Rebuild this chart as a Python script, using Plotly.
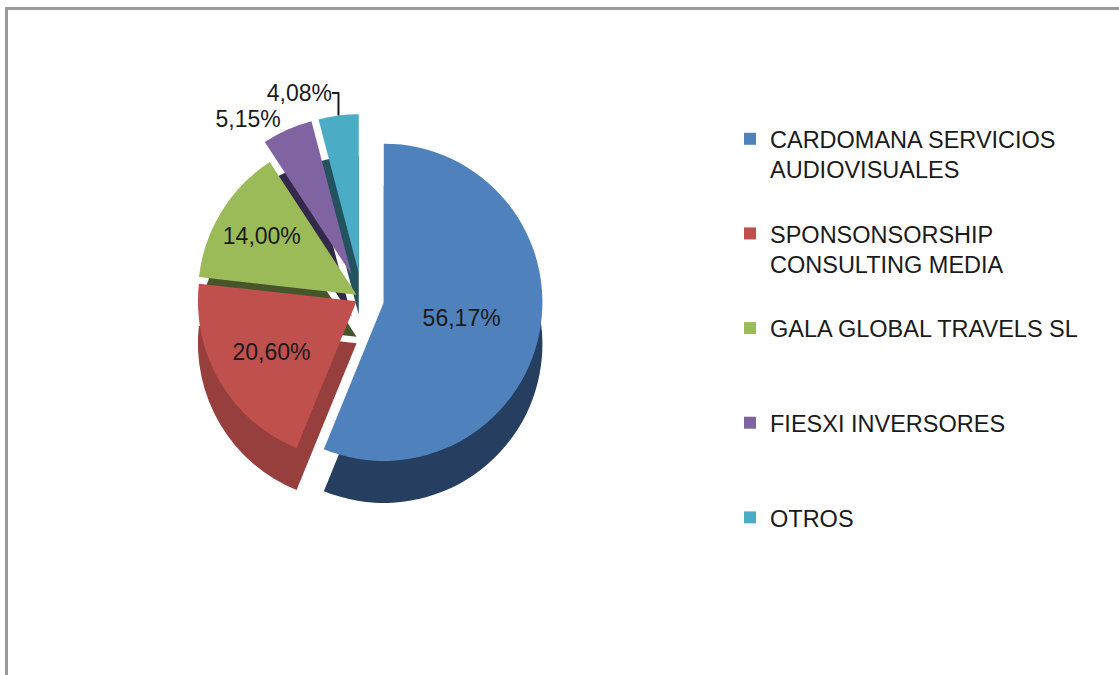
import plotly.graph_objects as go

# ---- data ----
labels = ["CARDOMANA SERVICIOS AUDIOVISUALES",
          "SPONSONSORSHIP CONSULTING MEDIA",
          "GALA GLOBAL TRAVELS SL",
          "FIESXI INVERSORES",
          "OTROS"]
legend_lines = [["CARDOMANA SERVICIOS", "AUDIOVISUALES"],
                ["SPONSONSORSHIP", "CONSULTING MEDIA"],
                ["GALA GLOBAL TRAVELS SL"],
                ["FIESXI INVERSORES"],
                ["OTROS"]]
values = [56.17, 20.60, 14.00, 5.15, 4.08]
colors = ["#4F81BD", "#C0504D", "#9BBB59", "#8064A2", "#4BACC6"]
side_colors = ["#263F60", "#973F3C", "#46552A", "#33294A", "#22535E"]
pulls = [0.14, 0.04, 0.04, 0.16, 0.16]
text_pos = ["inside", "inside", "inside", "outside", "outside"]

W, H = 1119, 675
FONT = "Liberation Sans"
TXT = "#1a1a1a"

# legend labels padded to 3 lines so entries are evenly spaced
disp = []
for ln in legend_lines:
    pad = ln + ["&nbsp;"] * (3 - len(ln))
    disp.append("<br>".join(pad))

cx, cy, half, depth = 362, 298, 184, 42


def dom(yc):
    return dict(x=[(cx - half) / W, (cx + half) / W],
                y=[1 - (yc + half) / H, 1 - (yc - half) / H])


fig = go.Figure()
# depth (side) layer to mimic the 3-D look
fig.add_trace(go.Pie(
    labels=disp, values=values, sort=False, direction="clockwise", rotation=0,
    marker=dict(colors=side_colors, line=dict(width=0)),
    pull=pulls, textinfo="none", hoverinfo="skip", showlegend=False,
    domain=dom(cy + depth),
))
fig.add_trace(go.Pie(
    labels=disp, values=values, sort=False, direction="clockwise", rotation=0,
    marker=dict(colors=colors, line=dict(width=0)),
    pull=pulls,
    texttemplate="%{percent:.2%}",
    textposition=text_pos,
    insidetextorientation="horizontal",
    textfont=dict(family=FONT, size=23, color=TXT),
    domain=dom(cy),
    hoverinfo="label+percent",
))

shapes = [
    dict(type="line", xref="paper", yref="paper", x0=5 / W, x1=1.0, y0=1 - 8.5 / H, y1=1 - 8.5 / H,
         line=dict(color="#9a9a9a", width=3)),
    dict(type="line", xref="paper", yref="paper", x0=6.5 / W, x1=6.5 / W, y0=0, y1=1 - 7 / H,
         line=dict(color="#9a9a9a", width=3)),
]

fig.update_layout(
    width=W, height=H,
    margin=dict(l=0, r=0, t=0, b=0),
    paper_bgcolor="white", plot_bgcolor="white",
    separators=",.",
    shapes=shapes,
    showlegend=True,
    legend=dict(x=730 / W, xanchor="left", y=1 - 117 / H, yanchor="top",
                valign="top", font=dict(family=FONT, size=23.5, color=TXT),
                bgcolor="rgba(0,0,0,0)", itemclick=False),
)

fig.write_html("out.html", config={"displayModeBar": False},
               post_script="document.body.style.margin='0';document.body.style.overflow='hidden';")
